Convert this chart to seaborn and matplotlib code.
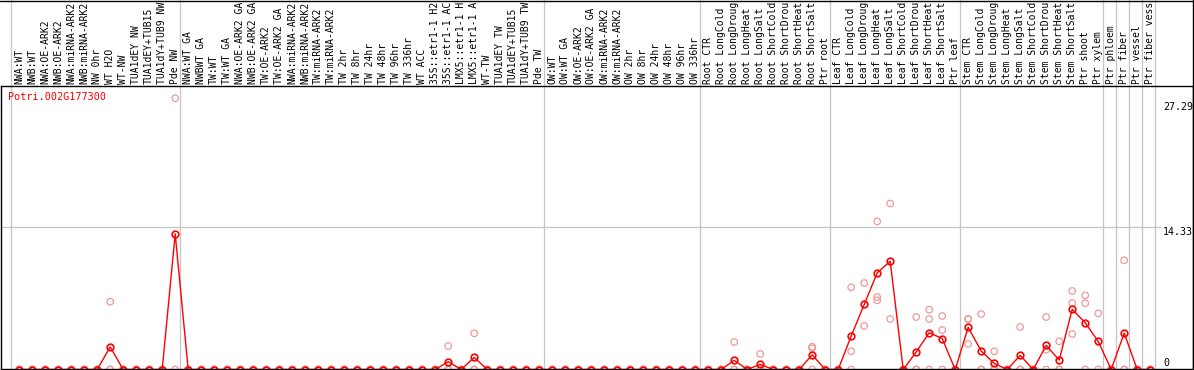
import numpy as np
import pandas as pd
import matplotlib
matplotlib.use("Agg")
import matplotlib.pyplot as plt
import matplotlib.transforms as mtransforms
from matplotlib.lines import Line2D
import seaborn as sns

gene_id = "Potri.002G177300"

# sample names as the header shows them (long ones are cut at 14 chars)
labels = [
    "NWA:WT", "NWB:WT", "NWA:OE-ARK2", "NWB:OE-ARK2", "NWA:miRNA-ARK2",
    "NWB:miRNA-ARK2", "NW 0hr", "WT H2O", "WT-NW", "TUA1dEY NW",
    "TUA1dEY+TUB15", "TUA1dY+TUB9 NW", "Pde NW", "NWA:WT GA", "NWBWT GA",
    "TW:WT", "TW:WT GA", "NWA:OE-ARK2 GA", "NWB:OE-ARK2 GA", "TW:OE-ARK2",
    "TW:OE-ARK2 GA", "NWA:miRNA-ARK2", "NWB:miRNA-ARK2", "TW:miRNA-ARK2",
    "TW:miRNA-ARK2", "TW 2hr", "TW 8hr", "TW 24hr", "TW 48hr", "TW 96hr",
    "TW 336hr", "WT ACC", "35S::etr1-1 H2", "35S::etr1-1 AC",
    "LMX5::etr1-1 H", "LMX5::etr1-1 A", "WT-TW", "TUA1dEY TW",
    "TUA1dEY+TUB15", "TUA1dY+TUB9 TW", "Pde TW", "OW:WT", "OW:WT GA",
    "OW:OE-ARK2", "OW:OE-ARK2 GA", "OW:miRNA-ARK2", "OW:miRNA-ARK2",
    "OW 2hr", "OW 8hr", "OW 24hr", "OW 48hr", "OW 96hr", "OW 336hr",
    "Root CTR", "Root LongCold", "Root LongDroug", "Root LongHeat",
    "Root LongSalt", "Root ShortCold", "Root ShortDrou", "Root ShortHeat",
    "Root ShortSalt", "Ptr root", "Leaf CTR", "Leaf LongCold",
    "Leaf LongDroug", "Leaf LongHeat", "Leaf LongSalt", "Leaf ShortCold",
    "Leaf ShortDrou", "Leaf ShortHeat", "Leaf ShortSalt", "Ptr leaf",
    "Stem CTR", "Stem LongCold", "Stem LongDroug", "Stem LongHeat",
    "Stem LongSalt", "Stem ShortCold", "Stem ShortDrou", "Stem ShortHeat",
    "Stem ShortSalt", "Ptr shoot", "Ptr xylem", "Ptr phloem", "Ptr fiber",
    "Ptr vessel", "Ptr fiber vess",
]

# samples with signal; every other sample reads 0 in all replicates
hit_pos = [7, 12, 33, 35, 55, 57, 61, 64, 65, 66, 67, 69, 70, 71,
           73, 74, 75, 77, 79, 80, 81, 82, 83, 85]
rep_1 = [6.82, 27.29, 2.36, 3.64, 2.77, 1.56, 2.29, 8.27, 8.70, 14.9, 16.7,
         5.28, 6.02, 5.38, 5.10, 5.58, 1.83, 4.28, 5.28, 2.84, 7.90, 7.46,
         5.65, 10.99]
rep_2 = [0, 0, 0, 0, 0, 0, 2.13, 1.83, 4.38, 7.29, 5.08,
         0, 5.08, 3.97, 5.05, 0, 0, 0, 2.0, 0, 6.69, 6.66,
         0, 0]
rep_3 = [0, np.nan, 0, 0, 0, 0, 0, 0, np.nan, 6.96, np.nan,
         0, 0, 0, 2.57, 0, 0, 0, 0, 0, 3.57, 0,
         np.nan, 0]

y_marks = [27.29, 14.33, 0]
y_mark_shift = [-9, -5, 7]          # px, label offset from its level
group_ends = [-1, 12, 40, 52, 62, 72, 83, 84, 85, 86, 87]

rows = []
for i, name in enumerate(labels):
    if i in hit_pos:
        k = hit_pos.index(i)
        vals = [rep_1[k], rep_2[k], rep_3[k]]
    else:
        vals = [0, 0, 0]
    for v in vals:
        rows.append({"pos": i, "sample": name, "value": v})
df = pd.DataFrame(rows).dropna()

sns.set_theme(style="white")
plt.rcParams["font.family"] = ["DejaVu Sans Mono"]

fig = plt.figure(figsize=(11.94, 3.70), dpi=100)
ax = fig.add_axes([0.5 / 1194, 1 / 370, 1192 / 1194, 283 / 370])

px_step, px_first = 13.0, 19.2
ax.set_xlim((0.5 - px_first) / px_step, (1192.5 - px_first) / px_step)
px_per_unit, px_zero = 9.94, 369.5
ax.set_ylim((px_zero - 369) / px_per_unit, (px_zero - 86) / px_per_unit)

grey = "#c4c4c4"
for g in group_ends:
    ax.axvline(g + 0.4, ymin=0, ymax=1.31, color=grey, lw=0.9, clip_on=False, zorder=0)
ax.axhline(y_marks[1], xmin=0, xmax=0.973, color=grey, lw=0.9, zorder=0)

sns.scatterplot(data=df, x="pos", y="value", s=22, facecolor="none",
                edgecolor="#ee9999", linewidth=0.9, ax=ax, legend=False)
sns.lineplot(data=df, x="pos", y="value", estimator="mean", errorbar=None,
             color="#ff0000", linewidth=1.0, marker="o", markersize=4.8,
             markerfacecolor="none", markeredgecolor="#ff0000",
             markeredgewidth=1.2, ax=ax)

ax.set_xticks([])
ax.set_yticks([])
ax.set_xlabel("")
ax.set_ylabel("")
for s in ax.spines.values():
    s.set_color("black")
    s.set_linewidth(1.0)

# sample labels in the header strip
hdr = mtransforms.offset_copy(ax.get_xaxis_transform(), fig=fig, y=1.5, units="dots")
for i, name in enumerate(labels):
    ax.text(i, 1.0, name, transform=hdr, rotation=90, ha="center", va="bottom",
            fontsize=7.0, color="black", clip_on=False)

# scale values on the right
for v, dy in zip(y_marks, y_mark_shift):
    tr = mtransforms.offset_copy(ax.get_yaxis_transform(), fig=fig, y=dy, units="dots")
    ax.text(0.9753, v, f"{v:g}", transform=tr, ha="left", va="center",
            fontsize=7.2, color="black")

ax.text(7.5 / 1192, (369 - 97) / 283, gene_id, transform=ax.transAxes,
        ha="left", va="center", fontsize=7.3, color="#ff0000")

fig.add_artist(Line2D([0, 1192.5 / 1194], [1 - 0.5 / 370] * 2, color="black", lw=1.0))
fig.add_artist(Line2D([1192.5 / 1194] * 2, [0, 1], color="black", lw=1.0))

fig.savefig("out.png", dpi=100)
